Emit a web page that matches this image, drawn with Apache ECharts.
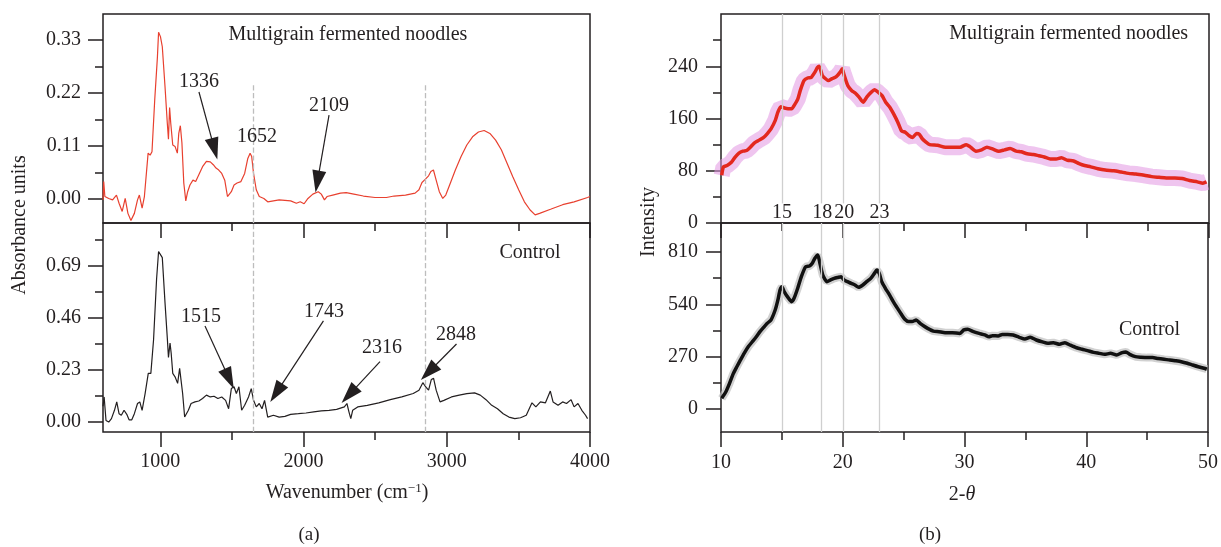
<!DOCTYPE html>
<html>
<head>
<meta charset="utf-8">
<script src="https://cdn.jsdelivr.net/npm/echarts@6/dist/echarts.min.js"></script>
<style>
  html, body { margin: 0; padding: 0; background: #fff; }
  #chart { width: 1221px; height: 547px; }
</style>
</head>
<body>
<div id="chart"></div>
<script>
const FONT = '"Liberation Serif", "DejaVu Serif", serif';
const INK = '#231f20';

// ---- (a) FTIR spectra: [wavenumber, absorbance] ----
const ftirMultigrain = [
  [600,-0.002],[605,0.036],[613,0.005],[640,0.001],[667,-0.002],[694,0.008],[712,-0.009],[734,-0.026],
  [755,0.001],[774,-0.03],[795,-0.045],[819,-0.03],[841,-0.002],[854,0.008],[873,-0.019],[889,0.005],
  [915,0.095],[929,0.091],[942,0.098],[961,0.205],[980,0.295],[988,0.346],[1001,0.337],[1014,0.316],
  [1033,0.233],[1049,0.157],[1057,0.124],[1065,0.19],[1073,0.157],[1087,0.112],[1103,0.109],[1119,0.095],
  [1129,0.136],[1140,0.152],[1151,0.116],[1164,0.033],[1178,-0.004],[1191,0.015],[1207,0.029],[1228,0.039],
  [1247,0.036],[1269,0.05],[1295,0.067],[1322,0.078],[1349,0.077],[1370,0.071],[1389,0.064],[1408,0.06],
  [1429,0.053],[1450,0.039],[1469,0.005],[1482,0.001],[1496,0.015],[1515,0.029],[1536,0.033],[1563,0.036],
  [1589,0.053],[1611,0.084],[1627,0.095],[1638,0.088],[1651,0.053],[1670,0.019],[1691,0.005],[1723,0.001],
  [1750,-0.006],[1830,-0.002],[1910,-0.004],[1950,-0.009],[1977,-0.006],[2004,-0.01],[2031,0.001],[2065,0.01],
  [2103,0.015],[2124,0.01],[2146,-0.002],[2164,0.005],[2204,0.008],[2258,0.012],[2298,0.013],[2351,0.01],
  [2418,0.006],[2499,0.003],[2579,0.003],[2632,0.006],[2712,0.008],[2779,0.012],[2806,0.019],[2827,0.034],
  [2851,0.041],[2873,0.048],[2889,0.057],[2907,0.06],[2926,0.039],[2948,0.015],[2972,0.001],[2993,0.008],
  [3020,0.029],[3060,0.06],[3100,0.088],[3140,0.112],[3180,0.129],[3221,0.139],[3261,0.142],[3301,0.136],
  [3341,0.122],[3381,0.102],[3421,0.074],[3461,0.046],[3502,0.019],[3542,-0.006],[3582,-0.023],[3617,-0.033],
  [3648,-0.03],[3729,-0.021],[3809,-0.012],[3889,-0.006],[3983,0.003],[4000,0.005]
];
const ftirControl = [
  [600,0.07],[608,0.111],[621,0.007],[640,0],[659,0.015],[680,0.052],[696,0.089],[712,0.037],[728,0.03],
  [747,0.052],[766,0.034],[782,0.01],[801,0.01],[819,0.037],[841,0.082],[857,0.089],[873,0.052],[894,0.126],
  [916,0.215],[934,0.215],[953,0.364],[974,0.631],[988,0.754],[1001,0.749],[1014,0.727],[1033,0.527],
  [1049,0.371],[1057,0.286],[1068,0.349],[1076,0.304],[1087,0.215],[1103,0.2],[1121,0.171],[1135,0.237],
  [1145,0.233],[1156,0.126],[1170,0.022],[1183,0.015],[1196,0.052],[1215,0.082],[1242,0.089],[1269,0.093],
  [1295,0.104],[1322,0.119],[1349,0.111],[1375,0.114],[1402,0.104],[1429,0.111],[1456,0.096],[1477,0.059],
  [1496,0.148],[1515,0.156],[1531,0.126],[1549,0.156],[1568,0.052],[1589,0.074],[1616,0.111],[1635,0.148],
  [1651,0.096],[1670,0.067],[1691,0.082],[1710,0.059],[1728,0.096],[1750,0.022],[1763,0.015],[1790,0.03],
  [1830,0.022],[1870,0.025],[1910,0.034],[1964,0.037],[2017,0.04],[2071,0.045],[2124,0.049],[2178,0.052],
  [2231,0.056],[2285,0.067],[2303,0.082],[2317,0.045],[2330,0.015],[2343,0.052],[2378,0.067],[2445,0.074],
  [2525,0.085],[2606,0.099],[2686,0.111],[2766,0.126],[2806,0.141],[2833,0.174],[2852,0.156],[2873,0.141],
  [2892,0.188],[2908,0.193],[2926,0.141],[2953,0.089],[2980,0.096],[3033,0.111],[3087,0.119],[3140,0.126],
  [3194,0.129],[3234,0.119],[3274,0.099],[3314,0.074],[3354,0.059],[3394,0.037],[3434,0.022],[3475,0.015],
  [3515,0.019],[3555,0.03],[3595,0.085],[3622,0.067],[3654,0.089],[3689,0.085],[3723,0.137],[3742,0.089],
  [3777,0.074],[3809,0.089],[3836,0.082],[3868,0.099],[3889,0.067],[3916,0.082],[3943,0.052],[3969,0.03],
  [3983,0.015]
];

// ---- (b) XRD patterns: [2-theta, intensity] ----
const xrdMultigrain = [
  [10.06,73],[10.2,86],[10.5,88],[10.85,93],[11.16,101],[11.47,107],[11.8,110],[12.1,111],[12.4,116],
  [12.7,122],[13.04,126],[13.5,131],[13.8,137],[14.1,144],[14.45,157],[14.67,170],[14.9,178],[15.2,176],
  [15.5,175],[15.8,175],[16.0,180],[16.3,190],[16.5,203],[16.8,218],[17.1,222],[17.4,223],[17.7,231],
  [17.9,238],[18.05,240],[18.3,226],[18.5,222],[18.8,218],[19.1,221],[19.45,224],[19.77,231],[19.93,236],
  [20.1,226],[20.4,210],[20.7,203],[21.0,199],[21.3,193],[21.65,185],[21.96,193],[22.3,200],[22.6,204],
  [22.9,200],[23.2,195],[23.5,185],[23.85,177],[24.15,167],[24.5,154],[24.8,141],[25.1,139],[25.4,134],
  [25.7,131],[26.03,137],[26.25,136],[26.5,129],[26.8,124],[27.1,120],[27.75,119],[28.4,116],[29.0,116],
  [29.6,116],[30.1,120],[30.4,117],[30.9,110],[31.36,112],[31.8,116],[32.3,113],[32.77,110],[33.24,112],
  [33.7,114],[34.2,110],[34.6,109],[35.1,106],[35.6,105],[36.05,103],[36.5,101],[37.0,98],[37.47,98],
  [37.9,100],[38.4,96],[38.9,95],[39.35,91],[39.8,88],[40.3,86],[40.9,83],[41.5,81],[42.2,80],[42.8,78],
  [43.4,76],[44.0,75],[44.7,73],[45.3,71],[45.9,70],[46.5,69],[47.2,69],[47.8,68],[48.4,65],[49.05,63],
  [49.5,61],[49.8,63]
];
const xrdControl = [
  [10.06,55],[10.4,89],[10.7,132],[11.0,181],[11.3,218],[11.6,253],[11.9,287],[12.25,322],[12.57,347],
  [12.9,373],[13.2,399],[13.5,421],[13.8,442],[14.1,459],[14.45,511],[14.67,562],[14.85,614],[15.0,631],
  [15.2,605],[15.5,576],[15.8,554],[16.0,571],[16.3,623],[16.6,683],[16.95,734],[17.27,738],[17.5,752],
  [17.7,777],[17.95,795],[18.1,760],[18.36,691],[18.7,657],[19.0,666],[19.3,674],[19.6,679],[19.87,683],
  [20.1,666],[20.4,657],[20.7,648],[21.0,640],[21.3,628],[21.65,640],[21.96,657],[22.3,674],[22.6,700],
  [22.8,717],[23.0,700],[23.2,657],[23.5,623],[23.85,588],[24.15,554],[24.5,519],[24.8,490],[25.1,463],
  [25.4,451],[25.7,451],[26.03,459],[26.35,442],[26.66,428],[26.97,416],[27.44,402],[27.9,399],[28.4,394],
  [29.0,394],[29.6,390],[29.95,408],[30.26,411],[30.73,399],[31.2,390],[31.67,382],[32.0,373],[32.3,378],
  [32.77,377],[33.1,385],[33.55,385],[34.0,382],[34.5,370],[34.96,361],[35.4,370],[35.9,356],[36.4,346],
  [36.84,339],[37.3,342],[37.8,334],[38.25,342],[38.7,329],[39.2,316],[39.66,308],[40.1,301],[40.6,292],
  [41.07,287],[41.5,282],[42.0,287],[42.5,279],[42.95,291],[43.26,294],[43.57,282],[44.04,270],[44.5,267],
  [45.0,265],[45.45,265],[45.9,260],[46.4,256],[46.86,253],[47.3,249],[47.8,244],[48.3,236],[48.74,227],
  [49.2,218],[49.68,210],[49.9,205]
];

// ---- ticks ----
const ftirTicks = [1000, 2000, 3000, 4000];
const ftirMinor = [1500, 2500, 3500];
const absTopTicks = [0, 0.11, 0.22, 0.33];
const absTopMinor = [0.055, 0.165, 0.275];
const absBottomTicks = [0, 0.23, 0.46, 0.69];
const absBottomMinor = [0.115, 0.345, 0.575, 0.805];
const thetaTicks = [10, 20, 30, 40, 50];
const thetaMinor = [15, 25, 35, 45];
const intTopTicks = [0, 80, 160, 240];
const intTopMinor = [40, 120, 200, 280];
const intBottomTicks = [0, 270, 540, 810];
const intBottomMinor = [135, 405, 675];

// ---- reference lines and annotations ----
const ftirMarkers = [1652, 2848];
const xrdPeaks = [15, 18.2, 20, 23];
const xrdPeakNotes = [
  { name: '15', value: [15, 15] }, { name: '18', value: [18.3, 15] },
  { name: '20', value: [20.1, 15] }, { name: '23', value: [23, 15] }
];
const ftirTopNotes = [
  { name: 'Multigrain fermented noodles', value: [2310, 0.340] },
  { name: '1336', value: [1270, 0.243] },
  { name: '1652', value: [1675, 0.129] },
  { name: '2109', value: [2178, 0.193] }
];
const ftirTopArrows = [
  [[1270, 0.222], [1378, 0.104]],
  [[2178, 0.174], [2097, 0.036]]
];
const ftirBottomNotes = [
  { name: 'Control', value: [3581, 0.747] },
  { name: '1515', value: [1284, 0.464] },
  { name: '1743', value: [2143, 0.487] },
  { name: '2316', value: [2548, 0.327] },
  { name: '2848', value: [3064, 0.385] }
];
const ftirBottomArrows = [
  [[1312, 0.425], [1481, 0.191]],
  [[2139, 0.447], [1810, 0.129]],
  [[2534, 0.267], [2318, 0.120]],
  [[3068, 0.345], [2873, 0.220]]
];
const xrdTopNotes = [{ name: 'Multigrain fermented noodles', value: [38.5, 289] }];
const xrdBottomNotes = [{ name: 'Control', value: [45.2, 408] }];

// axis ranges
const FT_X = [600, 4000];
const FT_TOP_Y = [-0.05, 0.384];
const FT_BOT_Y = [-0.044, 0.88];
const XRD_X = [10, 50];
const XRD_TOP_Y = [0, 320];
const XRD_BOT_Y = [-119, 960];

const chart = echarts.init(document.getElementById('chart'));

function axis(dim, gridIndex, range, ticks, len, labels) {
  const a = {
    type: 'value', gridIndex, min: range[0], max: range[1],
    position: dim === 'x' ? 'bottom' : 'left',
    axisLine: { show: false, onZero: false },
    splitLine: { show: false },
    axisTick: { show: true, inside: false, length: len, customValues: ticks,
      lineStyle: { color: INK, width: 1.5 } },
    axisLabel: { show: false }
  };
  if (labels) {
    a.axisLabel = {
      show: true, customValues: ticks, margin: labels.margin,
      fontFamily: FONT, fontSize: 20, color: INK,
      formatter: labels.formatter
    };
  }
  return a;
}
const fmt2 = v => v.toFixed(2);
const fmt0 = v => String(Math.round(v));

const gridBase = { show: true, borderColor: INK, borderWidth: 1.5, backgroundColor: 'transparent' };

function arrows(list) {
  return {
    silent: true, animation: false, symbol: ['none', 'triangle'], symbolSize: [0, 14],
    lineStyle: { color: INK, width: 1.2, type: 'solid', opacity: 1 },
    itemStyle: { color: INK },
    label: { show: false }, emphasis: { disabled: true },
    data: list.map(a => [{ coord: a[0] }, { coord: a[1], symbolSize: [14, 22] }])
  };
}
function vlines(xs, y0, y1, color, type) {
  return {
    silent: true, animation: false, symbol: 'none',
    lineStyle: { color, width: 1.3, type },
    label: { show: false }, emphasis: { disabled: true },
    data: xs.map(x => [{ coord: [x, y0] }, { coord: [x, y1] }])
  };
}

// series index in the option -> notes shown on that grid
const noteSets = [
  { xi: 0, list: ftirTopNotes },
  { xi: 2, list: ftirBottomNotes },
  { xi: 4, list: xrdTopNotes.concat(xrdPeakNotes) },
  { xi: 6, list: xrdBottomNotes }
];

const option = {
  animation: false,
  grid: [
    { ...gridBase, left: 103, top: 14, width: 487, height: 209 },
    { ...gridBase, left: 103, top: 223, width: 487, height: 209 },
    { ...gridBase, left: 721, top: 14, width: 488, height: 209 },
    { ...gridBase, left: 721, top: 223, width: 488, height: 209 }
  ],
  xAxis: [
    axis('x', 0, FT_X, ftirTicks, 15),
    axis('x', 0, FT_X, ftirMinor, 8),
    axis('x', 1, FT_X, ftirTicks, 15, { margin: 20, formatter: fmt0 }),
    axis('x', 1, FT_X, ftirMinor, 8),
    axis('x', 2, XRD_X, thetaTicks, 15),
    axis('x', 2, XRD_X, thetaMinor, 8),
    axis('x', 3, XRD_X, thetaTicks, 15, { margin: 21, formatter: fmt0 }),
    axis('x', 3, XRD_X, thetaMinor, 8)
  ],
  yAxis: [
    axis('y', 0, FT_TOP_Y, absTopTicks, 15, { margin: 22, formatter: fmt2 }),
    axis('y', 0, FT_TOP_Y, absTopMinor, 8),
    axis('y', 1, FT_BOT_Y, absBottomTicks, 15, { margin: 22, formatter: fmt2 }),
    axis('y', 1, FT_BOT_Y, absBottomMinor, 8),
    axis('y', 2, XRD_TOP_Y, intTopTicks, 15, { margin: 23, formatter: fmt0 }),
    axis('y', 2, XRD_TOP_Y, intTopMinor, 8),
    axis('y', 3, XRD_BOT_Y, intBottomTicks, 15, { margin: 23, formatter: fmt0 }),
    axis('y', 3, XRD_BOT_Y, intBottomMinor, 8)
  ],
  series: [
    // (a) top: multigrain FTIR
    {
      type: 'line', xAxisIndex: 0, yAxisIndex: 0, data: ftirMultigrain, symbol: 'none', silent: true,
      lineStyle: { color: '#e8402f', width: 1.2 }, z: 3,
      markLine: vlines(ftirMarkers, FT_TOP_Y[0], 0.24, '#bdbdbd', 'dashed')
    },
    // (a) bottom: control FTIR
    {
      type: 'line', xAxisIndex: 2, yAxisIndex: 2, data: ftirControl, symbol: 'none', silent: true,
      lineStyle: { color: INK, width: 1.2 }, z: 3,
      markLine: vlines(ftirMarkers, FT_BOT_Y[0], FT_BOT_Y[1], '#bdbdbd', 'dashed')
    },
    // (b) top: multigrain XRD raw band + smoothed
    {
      type: 'line', xAxisIndex: 4, yAxisIndex: 4, data: xrdMultigrain, symbol: 'none', silent: true,
      lineStyle: { color: 'rgba(226,150,226,0.55)', width: 16 }, z: 2,
      markLine: vlines(xrdPeaks, 30, XRD_TOP_Y[1], '#cfcfcf', 'solid')
    },
    {
      type: 'line', xAxisIndex: 4, yAxisIndex: 4, data: xrdMultigrain, symbol: 'none', silent: true,
      smooth: 0.2, lineStyle: { color: '#e3281e', width: 3.5 }, z: 3
    },
    // (b) bottom: control XRD raw band + smoothed
    {
      type: 'line', xAxisIndex: 6, yAxisIndex: 6, data: xrdControl, symbol: 'none', silent: true,
      lineStyle: { color: 'rgba(190,190,190,0.7)', width: 8 }, z: 2,
      markLine: vlines(xrdPeaks, XRD_BOT_Y[0], XRD_BOT_Y[1], '#cfcfcf', 'solid')
    },
    {
      type: 'line', xAxisIndex: 6, yAxisIndex: 6, data: xrdControl, symbol: 'none', silent: true,
      smooth: 0.2, lineStyle: { color: '#111', width: 3.5 }, z: 3
    },
    // arrows for peak call-outs
    { type: 'line', xAxisIndex: 0, yAxisIndex: 0, data: [], markLine: arrows(ftirTopArrows) },
    { type: 'line', xAxisIndex: 2, yAxisIndex: 2, data: [], markLine: arrows(ftirBottomArrows) }
  ],
  graphic: [
    { type: 'text', x: 20, y: 225, rotation: Math.PI / 2,
      style: { text: 'Absorbance units', fontFamily: FONT, fontSize: 20, fill: INK, align: 'center', verticalAlign: 'middle' } },
    { type: 'text', x: 649, y: 222, rotation: Math.PI / 2,
      style: { text: 'Intensity', fontFamily: FONT, fontSize: 20, fill: INK, align: 'center', verticalAlign: 'middle' } },
    { type: 'text', x: 347, y: 493,
      style: { text: 'Wavenumber (cm{sup|\u22121})', fontFamily: FONT, fontSize: 20, fill: INK, align: 'center', verticalAlign: 'middle',
        rich: { sup: { fontFamily: FONT, fontSize: 13, fill: INK, verticalAlign: 'top', padding: [0, 0, 8, 0] } } } },
    { type: 'text', x: 962, y: 495,
      style: { text: '2-{i|\u03b8}', fontFamily: FONT, fontSize: 20, fill: INK, align: 'center', verticalAlign: 'middle',
        rich: { i: { fontFamily: FONT, fontSize: 20, fontStyle: 'italic', fill: INK } } } },
    { type: 'text', x: 309, y: 535,
      style: { text: '(a)', fontFamily: FONT, fontSize: 19, fill: INK, align: 'center', verticalAlign: 'middle' } },
    { type: 'text', x: 930, y: 535,
      style: { text: '(b)', fontFamily: FONT, fontSize: 19, fill: INK, align: 'center', verticalAlign: 'middle' } }
  ]
};

chart.setOption(option);

// place call-out texts through the chart's own scales
const noteGraphics = [];
noteSets.forEach(set => {
  set.list.forEach(n => {
    const p = chart.convertToPixel({ xAxisIndex: set.xi, yAxisIndex: set.xi }, n.value);
    noteGraphics.push({
      type: 'text', x: p[0], y: p[1], z: 10, silent: true,
      style: { text: n.name, fontFamily: FONT, fontSize: 20, fill: INK, align: 'center', verticalAlign: 'middle' }
    });
  });
});
chart.setOption({ graphic: option.graphic.concat(noteGraphics) });
</script>
</body>
</html>
